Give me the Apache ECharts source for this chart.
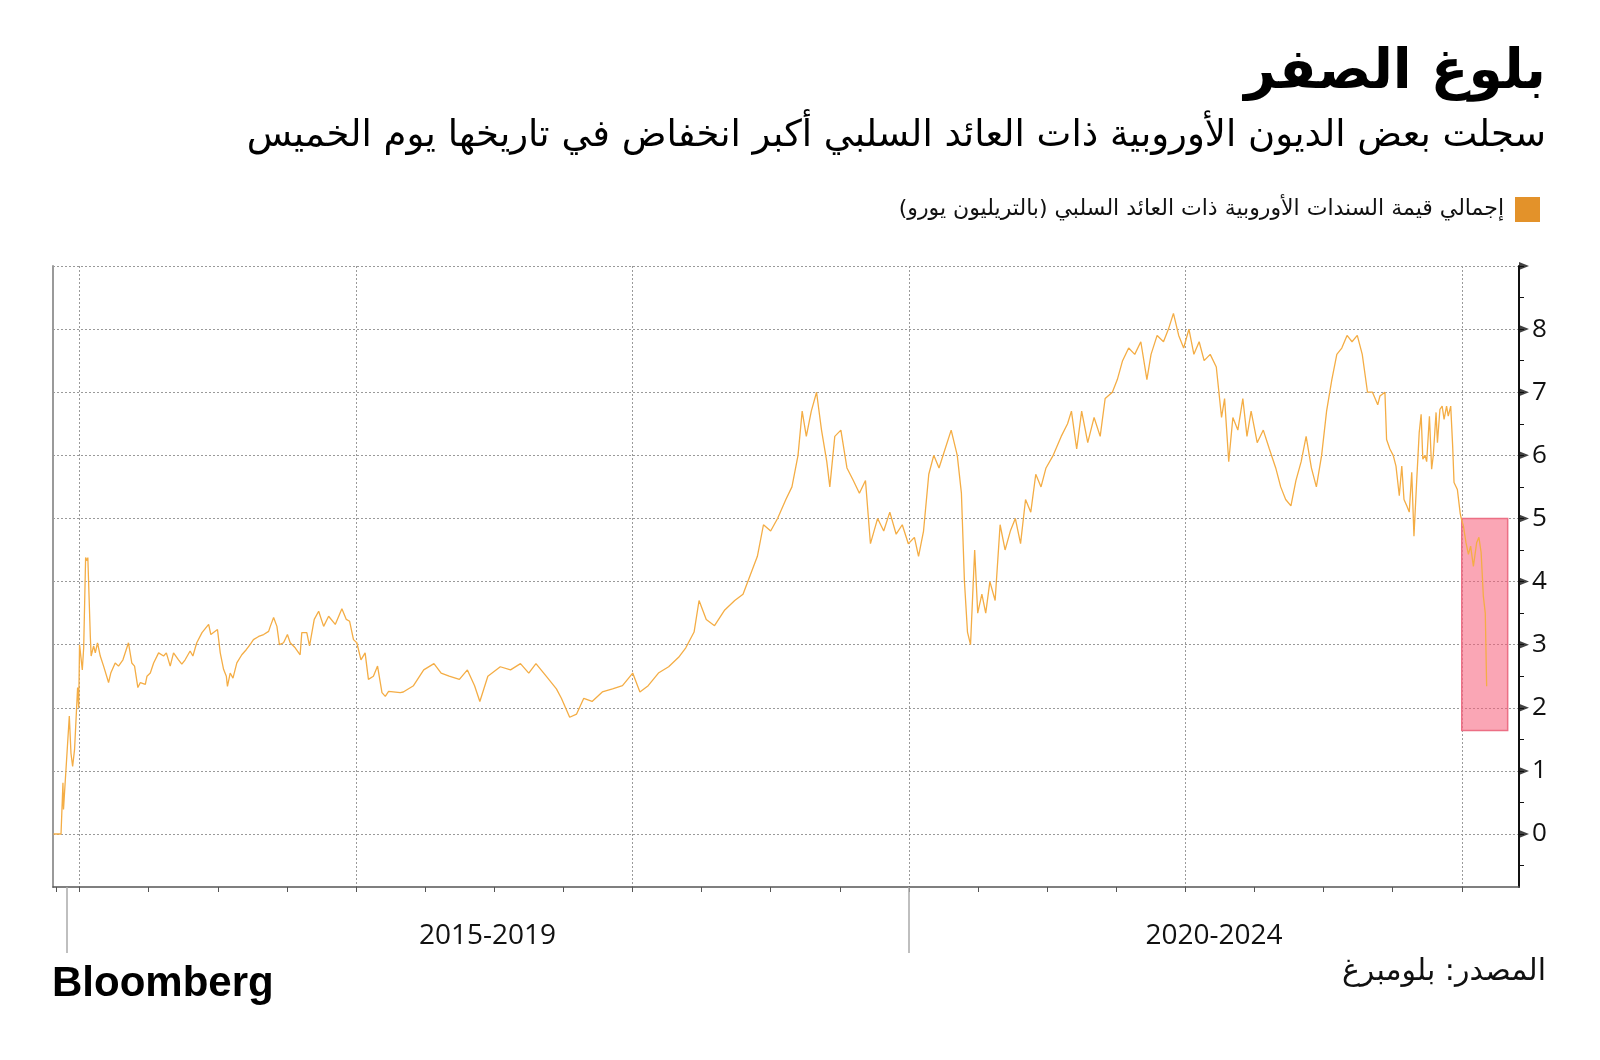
<!DOCTYPE html>
<html><head><meta charset="utf-8">
<script src="https://cdn.jsdelivr.net/npm/echarts@6/dist/echarts.min.js"></script>
<style>html,body{margin:0;padding:0;background:#fff}#c{width:1600px;height:1060px}</style>
</head><body><div id="c"></div>
<script>
// ---- data (decimal years, trillion EUR) ----
const dates = [
2016.906,2016.933,2016.940,2016.942,2016.963,2016.969,2016.975,2016.982,2016.993,2016.997,
2017.000,2017.010,2017.015,2017.022,2017.027,2017.030,2017.039,2017.042,2017.051,2017.057,
2017.065,2017.075,2017.087,2017.105,2017.113,2017.129,2017.141,2017.157,2017.177,2017.189,
2017.199,2017.211,2017.220,2017.238,2017.244,2017.256,2017.268,2017.286,2017.304,2017.314,
2017.328,2017.340,2017.358,2017.370,2017.382,2017.400,2017.410,2017.424,2017.443,2017.467,
2017.475,2017.499,2017.509,2017.521,2017.531,2017.535,2017.545,2017.555,2017.569,2017.587,
2017.603,2017.617,2017.629,2017.648,2017.666,2017.684,2017.690,2017.702,2017.714,2017.723,
2017.738,2017.752,2017.762,2017.780,2017.798,2017.804,2017.822,2017.832,2017.849,2017.865,
2017.883,2017.901,2017.925,2017.949,2017.965,2017.977,2017.991,2018.003,2018.018,2018.033,
2018.045,2018.063,2018.078,2018.094,2018.106,2018.118,2018.160,
2018.171,2018.208,2018.245,2018.282,2018.308,2018.337,2018.374,2018.403,2018.429,2018.448,
2018.477,2018.522,2018.559,2018.595,2018.625,2018.651,2018.688,2018.725,2018.743,2018.773,
2018.798,2018.824,2018.854,2018.891,2018.928,2018.964,2019.001,2019.027,2019.057,2019.094,
2019.131,2019.167,2019.193,2019.223,2019.241,2019.267,2019.297,2019.334,2019.370,2019.400,
2019.426,2019.452,2019.474,2019.500,2019.525,2019.555,2019.577,2019.599,2019.614,2019.629,
2019.647,2019.666,2019.684,2019.703,2019.714,2019.732,2019.754,2019.776,2019.799,2019.821,
2019.843,2019.861,2019.887,2019.909,2019.931,2019.954,2019.976,2019.998,2020.020,2020.035,
2020.053,2020.072,2020.090,2020.109,2020.131,2020.153,2020.175,2020.190,2020.201,2020.212,
2020.223,2020.238,2020.249,2020.264,2020.278,2020.293,2020.312,2020.330,2020.348,2020.367,
2020.385,2020.404,2020.422,2020.441,2020.459,2020.478,2020.496,2020.522,2020.551,2020.574,
2020.588,2020.607,2020.625,2020.647,2020.670,2020.692,2020.710,2020.736,2020.754,2020.773,
2020.795,2020.817,2020.839,2020.861,2020.876,2020.898,2020.921,2020.939,2020.957,2020.976,
2020.994,2021.013,2021.031,2021.050,2021.068,2021.090,2021.112,2021.131,2021.142,2021.157,
2021.172,2021.190,2021.208,2021.223,2021.238,2021.260,2021.282,2021.304,2021.327,2021.345,
2021.363,2021.382,2021.400,2021.419,2021.437,2021.456,2021.474,2021.493,2021.511,2021.530,
2021.548,2021.566,2021.585,2021.603,2021.622,2021.640,2021.659,2021.677,2021.696,
2021.704,2021.722,2021.728,2021.740,2021.752,2021.762,2021.774,2021.783,2021.791,2021.801,
2021.810,2021.819,2021.827,2021.837,2021.846,2021.853,2021.859,2021.867,2021.873,2021.883,
2021.891,2021.897,2021.907,2021.912,2021.921,2021.929,2021.936,2021.945,2021.951,2021.960,
2021.967,2021.972,2021.984,2021.994,2021.998,2022.006,2022.015,2022.024,2022.032,2022.042,
2022.054,2022.062,2022.070,2022.078,2022.085,2022.090
];
const values = [
0,0,0.81,0.39,1.87,1.28,1.07,1.34,2.32,2.0,
3.0,2.6,2.95,4.38,4.33,4.38,3.13,2.82,2.98,2.87,
3.03,2.82,2.66,2.40,2.55,2.71,2.66,2.76,3.03,2.71,
2.66,2.32,2.40,2.37,2.50,2.55,2.71,2.87,2.82,2.87,
2.66,2.87,2.76,2.69,2.76,2.90,2.82,3.03,3.19,3.32,
3.16,3.24,2.87,2.61,2.50,2.34,2.55,2.47,2.71,2.84,
2.92,3.0,3.08,3.13,3.16,3.21,3.29,3.43,3.29,3.0,
3.03,3.16,3.03,2.95,2.84,3.19,3.19,2.98,3.40,3.53,
3.29,3.45,3.32,3.57,3.40,3.37,3.08,3.03,2.76,2.87,
2.45,2.50,2.66,2.24,2.18,2.26,2.24,
2.25,2.35,2.6,2.7,2.55,2.5,2.45,2.6,2.35,2.1,
2.5,2.65,2.6,2.7,2.55,2.7,2.5,2.3,2.15,1.85,
1.9,2.15,2.1,2.25,2.3,2.35,2.55,2.25,2.35,2.55,
2.65,2.8,2.95,3.2,3.7,3.4,3.3,3.55,3.7,3.8,
4.1,4.4,4.9,4.8,5.0,5.3,5.5,6.0,6.7,6.3,
6.7,7.0,6.4,5.9,5.5,6.3,6.4,5.8,5.6,5.4,
5.6,4.6,5.0,4.8,5.1,4.75,4.9,4.6,4.7,4.4,
4.8,5.7,6.0,5.8,6.1,6.4,6.0,5.4,4.0,3.2,
3.0,4.5,3.5,3.8,3.5,4.0,3.7,4.9,4.5,4.8,
5.0,4.6,5.3,5.1,5.7,5.5,5.8,6.0,6.3,6.5,
6.7,6.1,6.7,6.2,6.6,6.3,6.9,7.0,7.2,7.5,
7.7,7.6,7.8,7.2,7.6,7.9,7.8,8.0,8.25,7.9,
7.7,8.0,7.6,7.8,7.5,7.6,7.4,6.6,6.9,5.9,
6.6,6.4,6.9,6.3,6.7,6.2,6.4,6.1,5.8,5.5,
5.3,5.2,5.6,5.9,6.3,5.8,5.5,6.0,6.7,7.2,
7.6,7.7,7.9,7.8,7.9,7.6,7.0,7.0,6.8,
6.94,7.0,6.25,6.1,6.0,5.83,5.36,5.83,5.3,5.2,
5.1,5.73,4.72,5.6,6.36,6.65,5.94,6.0,5.9,6.62,
5.78,6.0,6.68,6.2,6.73,6.78,6.57,6.78,6.62,6.78,
6.15,5.57,5.46,5.09,5.0,4.88,4.62,4.43,4.56,4.24,
4.62,4.70,4.46,3.77,3.5,2.34
];
const yTickValues = [-0.5,0,0.5,1,1.5,2,2.5,3,3.5,4,4.5,5,5.5,6,6.5,7,7.5,8,8.5,9];
const yLabelValues = [0,1,2,3,4,5,6,7,8];
const yGridValues = [0,1,2,3,4,5,6,7,8,9];
const xGridYears = [2017,2018,2019,2020,2021,2022];
const xTickValues = [2016.917,2017,2017.25,2017.5,2017.75,2018,2018.25,2018.5,2018.75,2019,2019.25,2019.5,2019.75,2020,2020.25,2020.5,2020.75,2021,2021.25,2021.5,2021.75,2022];
const periodLabels = ['2015-2019','2020-2024'];
const periodStarts = [2016.952, 2020.0];
const xRange = [2016.904, 2022.207];
const yRange = [-0.84, 9];
const highlightFrom = [2022.0, 5.0];
const highlightTo = [2022.166, 1.64];

const titleText = 'بلوغ الصفر';
const subtitleText = 'سجلت بعض الديون الأوروبية ذات العائد السلبي أكبر انخفاض في تاريخها يوم الخميس';
const legendText = 'إجمالي قيمة السندات الأوروبية ذات العائد السلبي (بالتريليون يورو)\u200F';
const sourceText = 'المصدر: بلومبرغ';
const logoText = 'Bloomberg';

// ---- derived ----
const lineData = dates.map((d, i) => [d, values[i]]);
const periodCenters = periodStarts.map((s, i) => (s + (i + 1 < periodStarts.length ? periodStarts[i + 1] : xRange[1])) / 2);
const arrowData = yGridValues.map(v => [xRange[1], v]);
const AR = 'DejaVu Sans';
const NUM = 'Open Sans';

const chart = echarts.init(document.getElementById('c'), null, {renderer: 'canvas'});
const baseX = {type: 'value', position: 'bottom', min: xRange[0], max: xRange[1], axisPointer: {show: false}};
const baseY = {type: 'value', min: yRange[0], max: yRange[1]};
chart.setOption({
  animation: false,
  backgroundColor: '#fff',
  grid: {left: 53, right: 81, top: 266, bottom: 173, containLabel: false, outerBoundsMode: 'none'},
  xAxis: [
    Object.assign({}, baseX, {
      axisLine: {show: true, onZero: false, lineStyle: {color: '#555', width: 1.5}},
      axisTick: {show: true, customValues: xTickValues, length: 5, lineStyle: {color: '#555', width: 1}},
      axisLabel: {show: false}, splitLine: {show: false}
    }),
    Object.assign({}, baseX, {
      axisLine: {show: false, onZero: false},
      axisTick: {show: true, customValues: periodStarts, length: 66, lineStyle: {color: '#aaa', width: 1.5}},
      axisLabel: {show: true, customValues: periodCenters, margin: 35, fontSize: 28, fontFamily: NUM, color: '#111',
        formatter: v => { const i = periodCenters.findIndex(c => Math.abs(c - v) < 1e-6); return i >= 0 ? periodLabels[i] : ''; }},
      splitLine: {show: false}
    }),
    Object.assign({}, baseX, {
      axisLine: {show: false, onZero: false},
      axisTick: {show: false, customValues: xGridYears},
      axisLabel: {show: false},
      splitLine: {show: true, lineStyle: {color: '#9a9a9a', width: 1, type: [2, 2]}}
    })
  ],
  yAxis: [
    Object.assign({}, baseY, {
      position: 'right',
      axisLine: {show: true, onZero: false, lineStyle: {color: '#111', width: 2}},
      axisTick: {show: true, inside: false, customValues: yTickValues, length: 5, lineStyle: {color: '#111', width: 1}},
      axisLabel: {show: true, customValues: yLabelValues, margin: 13, fontSize: 26, fontFamily: NUM, color: '#111'},
      splitLine: {show: false}
    }),
    Object.assign({}, baseY, {
      position: 'left',
      axisLine: {show: true, onZero: false, lineStyle: {color: '#9a9a9a', width: 2}},
      axisTick: {show: false, customValues: yGridValues},
      axisLabel: {show: false},
      splitLine: {show: true, lineStyle: {color: '#9a9a9a', width: 1, type: [2, 2]}}
    })
  ],
  legend: {
    right: 55, top: 192, itemWidth: 25, itemHeight: 25, align: 'right', icon: 'rect', selectedMode: false,
    data: [{name: legendText, itemStyle: {color: '#e3922a'}}],
    textStyle: {fontSize: 22, fontFamily: AR, color: '#111', padding: [0, 6, 0, 0]}
  },
  graphic: [
    {type: 'text', x: 1546, y: 74, style: {text: titleText, align: 'right', textAlign: 'right', verticalAlign: 'middle', textVerticalAlign: 'middle', fontSize: 55, fontWeight: 'bold', fontFamily: AR, fill: '#000'}},
    {type: 'text', x: 1546, y: 136, style: {text: subtitleText, align: 'right', textAlign: 'right', verticalAlign: 'middle', textVerticalAlign: 'middle', fontSize: 37, fontFamily: AR, fill: '#000'}},
    {type: 'text', x: 1546, y: 972, style: {text: sourceText, align: 'right', textAlign: 'right', verticalAlign: 'middle', textVerticalAlign: 'middle', fontSize: 30, fontFamily: AR, fill: '#111'}},
    {type: 'text', x: 52, y: 984, style: {text: logoText, align: 'left', textAlign: 'left', verticalAlign: 'middle', textVerticalAlign: 'middle', fontSize: 42, fontWeight: 'bold', fontFamily: 'Liberation Sans', fill: '#000'}}
  ],
  series: [
    {
      name: legendText, type: 'line', xAxisIndex: 0, yAxisIndex: 0, data: lineData,
      showSymbol: false, symbol: 'none', z: 3,
      lineStyle: {color: '#f4ad45', width: 1.3}, itemStyle: {color: '#f4ad45'},
      markArea: {
        silent: true,
        itemStyle: {color: 'rgba(246,92,120,0.55)', borderColor: '#ec6f85', borderWidth: 1.5},
        data: [[{coord: highlightFrom}, {coord: highlightTo}]]
      }
    },
    {
      type: 'scatter', xAxisIndex: 0, yAxisIndex: 0, data: arrowData, clip: false, silent: true, z: 6,
      symbol: 'path://M0,0L10,5L0,10Z', symbolSize: [10, 8], symbolOffset: [5, 0],
      itemStyle: {color: '#111'}
    }
  ]
});
</script></body></html>
